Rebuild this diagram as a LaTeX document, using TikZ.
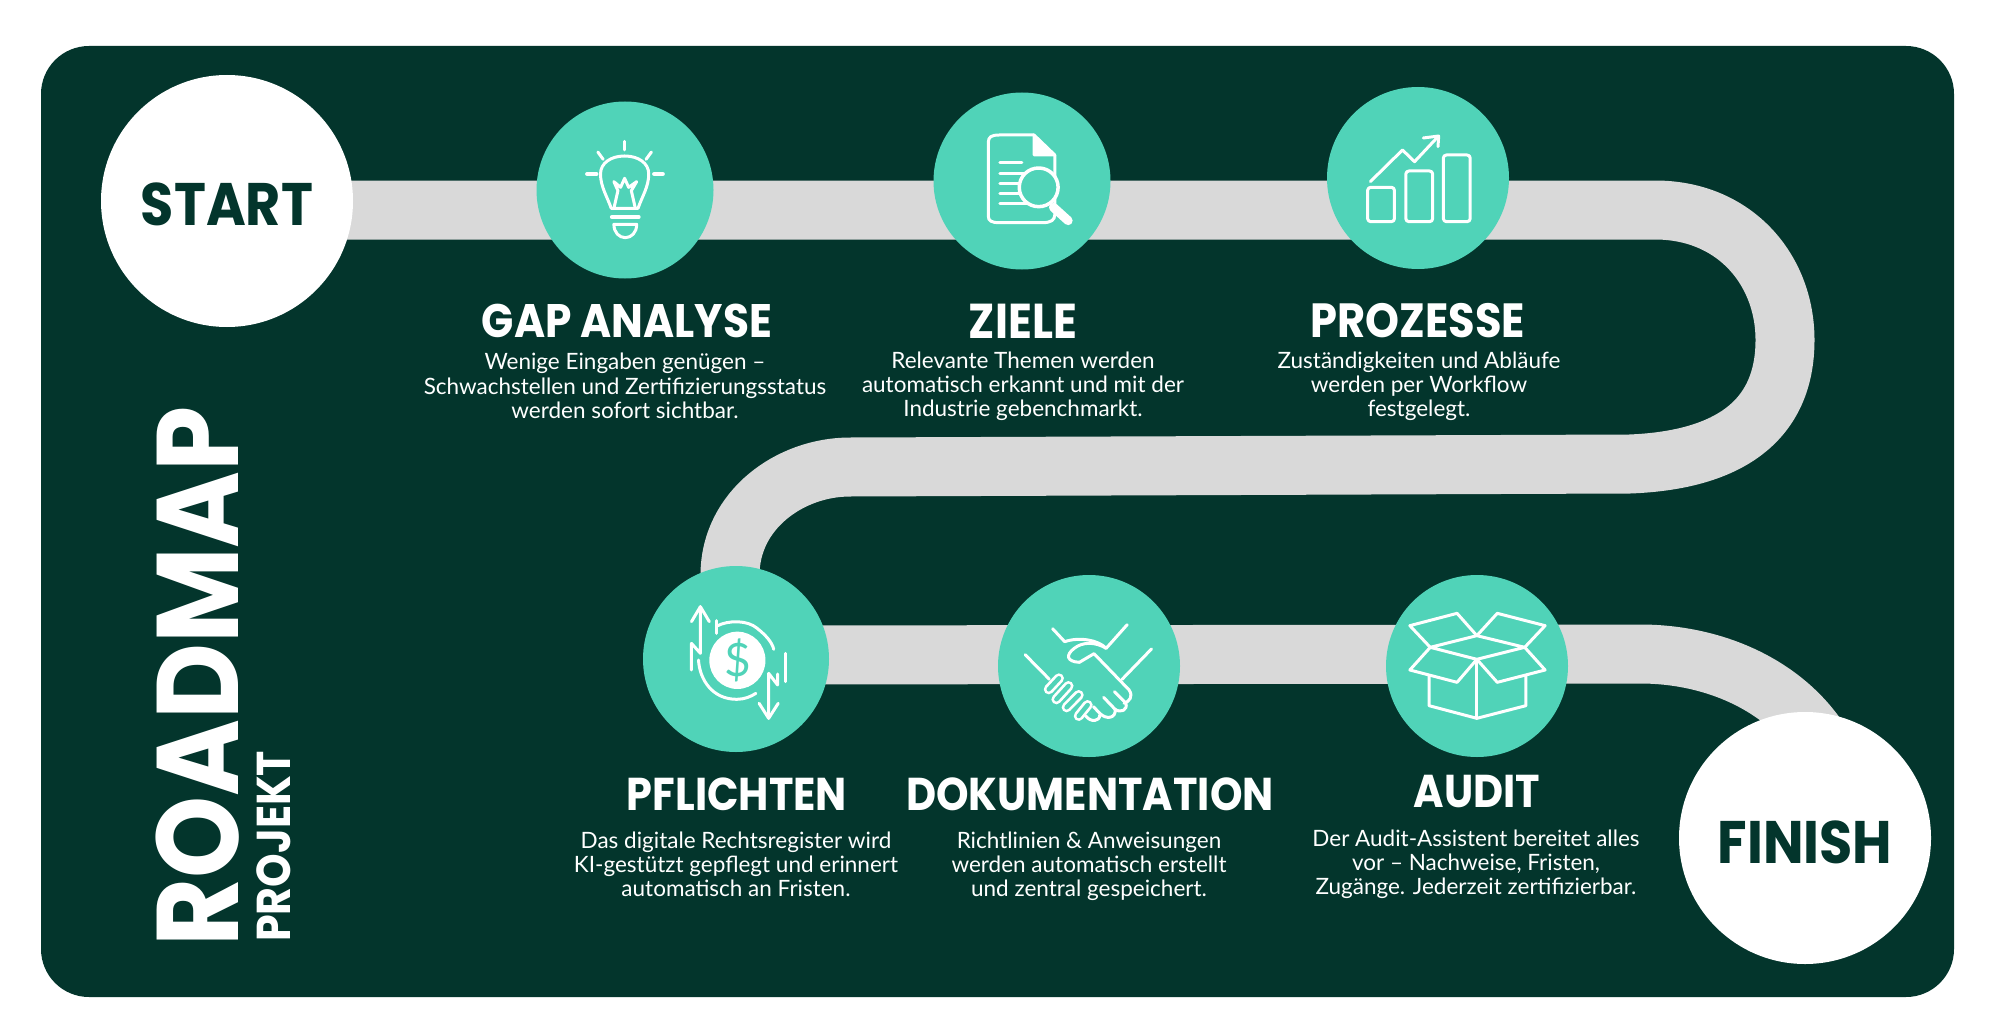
\documentclass[tikz,border=0pt]{standalone}
\usepackage{fontspec}
\setmainfont{Lato}
\newfontfamily\headf[FakeStretch=0.9]{Poppins}
\definecolor{panel}{HTML}{03352C}
\definecolor{teal}{HTML}{50D3B8}
\definecolor{bandc}{HTML}{D9D9D9}
\tikzset{
 stepdot/.style={circle,fill=teal,draw=none,inner sep=0pt},
 endcirc/.style={circle,fill=white,draw=none,minimum size=252pt,inner sep=0pt},
 endtxt/.style={inner sep=0pt,text=panel,font=\headf\bfseries\fontsize{60}{62}\selectfont},
 headtxt/.style={text=white,inner sep=0pt,font=\headf\bfseries\fontsize{#1}{48}\selectfont},
 headtxt/.default=46,
 bodytxt/.style={text=white,inner sep=0pt,align=center,font=\fontsize{22.5}{24.2}\selectfont},
 band/.style={draw=bandc,line width=59pt,line join=round},
 ico/.style={draw=white,line width=3pt,line cap=round,line join=round},
 icz1/.style={shift={(500,100)},x=.67pt,y=-.3333pt},
 icz2/.style={shift={(620,550)},x=.638pt,y=-.3333pt},
}
\begin{document}
\begin{tikzpicture}[x=1pt,y=-1pt]
\useasboundingbox (0,0) rectangle (2000,1030);
\fill[white] (0,0) rectangle (2000,1030);
\fill[panel,rounded corners=48pt] (41,46) rectangle (1954,997);
\coordinate (cS) at (227,201);
\coordinate (cG) at (625,190);
\coordinate (cZ) at (1022,181);
\coordinate (cP) at (1418,178);
\coordinate (cF) at (736,659);
\coordinate (cD) at (1089,666);
\coordinate (cA) at (1477,666);
\coordinate (cE) at (1805,838);
\coordinate (b1) at (227,210);
\coordinate (b2) at (1655,210);
\coordinate (b3) at (1785,340);
\coordinate (b4) at (1630,464);
\coordinate (b5) at (850,467);
\coordinate (b6) at (730,575);
\coordinate (b7) at (736,655);
\coordinate (b8) at (1640,654);
\coordinate (b9) at (1835,770);
\draw[band] (b1) -- (b2) .. controls (1735,210) and (1785,270) .. (b3) .. controls (1785,420) and (1730,460) .. (b4) -- (b5) .. controls (790,467) and (730,510) .. (b6) -- (b7) -- (b8) .. controls (1725,654) and (1805,695) .. (b9);
\node[endcirc] (start) at (cS) {};
\node[endcirc] (finish) at (cE) {};
\node[endtxt] (starttxt) at (227,204) {START};
\node[endtxt] (finishtxt) at (1805,842) {FINISH};
\node[stepdot,minimum size=177pt] (gap) at (cG) {};
\node[stepdot,minimum size=177pt] (ziele) at (cZ) {};
\node[stepdot,minimum size=182pt] (proz) at (cP) {};
\node[stepdot,minimum size=186pt] (pfl) at (cF) {};
\node[stepdot,minimum size=182pt] (doku) at (cD) {};
\node[stepdot,minimum size=182pt] (audit) at (cA) {};
% headings
\node[headtxt=47] (h1) at (627,321) {GAP ANALYSE};
\node[headtxt=49] (h2) at (1023,321) {ZIELE};
\node[headtxt=48] (h3) at (1418,321) {PROZESSE};
\node[headtxt] (h4) at (737,794) {PFLICHTEN};
\node[headtxt] (h5) at (1090,794) {DOKUMENTATION};
\node[headtxt] (h6) at (1477,792) {AUDIT};
% body
\node[bodytxt] (t1) at (625,386) {Wenige Eingaben genügen –\\Schwachstellen und Zertifizierungsstatus\\werden sofort sichtbar.};
\node[bodytxt] (t2) at (1023,386) {Relevante Themen werden\\automatisch erkannt und mit der\\Industrie gebenchmarkt.};
\node[bodytxt] (t3) at (1419,386) {Zuständigkeiten und Abläufe\\werden per Workflow\\festgelegt.};
\node[bodytxt] (t4) at (736,864) {Das digitale Rechtsregister wird\\KI-gestützt gepflegt und erinnert\\automatisch an Fristen.};
\node[bodytxt] (t5) at (1089,866) {Richtlinien \& Anweisungen\\werden automatisch erstellt\\und zentral gespeichert.};
\node[bodytxt] (t6) at (1476,864) {Der Audit-Assistent bereitet alles\\vor – Nachweise, Fristen,\\Zugänge. Jederzeit zertifizierbar.};
% side title
\node[rotate=90,anchor=base west,inner sep=0pt,text=white,font=\headf\bfseries\fontsize{116}{116}\selectfont] (road) at (238,947) {ROADMAP};
\node[rotate=90,anchor=base west,inner sep=0pt,text=white,font=\headf\bfseries\fontsize{47.5}{47.5}\selectfont] (proj) at (290,942) {PROJEKT};
% bulb
\begin{scope}[icz1,ico]
\draw (166,325) .. controls (160,290) and (150,260) .. (150,222) .. controls (150,190) and (165,168) .. (186,168) .. controls (207,168) and (222,190) .. (222,222) .. controls (222,260) and (212,290) .. (206,325) -- cycle;
\draw (170,325) -- (176,272) -- (170,245) -- (180,262) -- (186,235) -- (192,262) -- (204,245) -- (196,272) -- (202,325);
\draw[line width=4pt] (167,351) -- (207,351);
\draw (170,373) -- (204,373) .. controls (204,398) and (196,413) .. (187,413) .. controls (178,413) and (170,398) .. (170,373) -- cycle;
\draw (186,124) -- (186,150);
\draw (146,156) -- (154,178);
\draw (226,156) -- (218,178);
\draw[line width=4pt] (130,222) -- (144,222);
\draw[line width=4pt] (230,222) -- (243,222);
\end{scope}
% document
\begin{scope}[icz1,ico]
\draw (797,105) -- (745,105) .. controls (733,105) and (729,112) .. (729,125) -- (729,350) .. controls (729,362) and (733,368) .. (745,368) -- (810,368) .. controls (822,368) and (828,360) .. (828,345) -- (828,165);
\draw[fill=white] (797,105) -- (828,165) -- (797,165) -- cycle;
\draw (746,188) -- (779,188);
\draw (746,220) -- (790,220);
\draw (746,250) -- (775,250);
\draw (746,282) -- (775,282);
\draw (746,312) -- (790,312);
\draw[line width=3.5pt,fill=teal] (804,262) circle[x radius=29,y radius=58];
\draw[line width=9pt] (826,322) -- (848,362);
\end{scope}
% chart
\begin{scope}[icz1,ico]
\draw[rounded corners=3pt] (1295,262) rectangle (1335,365);
\draw[rounded corners=3pt] (1352,213) rectangle (1392,365);
\draw[rounded corners=3pt] (1408,165) rectangle (1448,365);
\draw (1299,245) -- (1347,150) -- (1365,185) -- (1400,110);
\draw (1378,114) -- (1401,108) -- (1400,140);
\end{scope}
% finance
\begin{scope}[icz2,ico]
\fill[white] (184,331) circle[x radius=44,y radius=86];
\draw (112,215) -- (126,170) -- (140,215);
\draw (126,170) -- (126,310) -- (112,280) -- (112,360);
\draw (218,460) -- (233,505) -- (248,460);
\draw (233,505) -- (233,370) -- (247,405) -- (247,372);
\draw (260,310) -- (260,395);
\draw (152,212) -- (152,250);
\draw (152,228) .. controls (170,210) and (200,210) .. (215,235) .. controls (228,255) and (238,275) .. (241,298);
\draw (123,330) .. controls (125,390) and (145,448) .. (183,448) .. controls (195,448) and (205,440) .. (213,430);
\end{scope}
\node[text=teal,inner sep=0pt,font=\fontsize{46}{46}\selectfont] (dollar) at (737.5,660) {\$};
% handshake
\begin{scope}[icz2,ico]
\draw (678,236) -- (697,275) .. controls (720,260) and (750,270) .. (762,295) -- (795,224);
\draw (635,314) -- (673,388);
\draw (833,297) -- (787,388);
\draw (762,295) .. controls (745,275) and (725,275) .. (712,295) .. controls (698,315) and (700,335) .. (720,337) -- (743,311) -- (798,420) .. controls (805,440) and (798,455) .. (790,460);
\draw[line width=10pt] (688,385) -- (672,418);
\draw[line width=10pt] (703,408) -- (684,448);
\draw[line width=10pt] (719,435) -- (700,472);
\draw[line width=10pt] (733,465) -- (719,498);
\draw[teal,line width=4.5pt] (688,385) -- (672,418);
\draw[teal,line width=4.5pt] (703,408) -- (684,448);
\draw[teal,line width=4.5pt] (719,435) -- (700,472);
\draw[teal,line width=4.5pt] (733,465) -- (719,498);
\draw (775,425) -- (793,460) .. controls (796,480) and (785,490) .. (776,478) -- (758,442);
\draw (776,478) .. controls (778,505) and (762,510) .. (752,490) -- (742,470);
\draw (752,495) .. controls (752,515) and (738,518) .. (730,498);
\end{scope}
% box
\begin{scope}[icz2,ico]
\draw (1343,257) -- (1270,292) -- (1343,328) -- (1418,292) -- cycle;
\draw (1343,257) -- (1312,190) -- (1238,227) -- (1270,292);
\draw (1343,257) -- (1375,190) -- (1450,227) -- (1418,292);
\draw (1270,292) -- (1238,360) -- (1312,397) -- (1343,328);
\draw (1418,292) -- (1450,360) -- (1375,397) -- (1343,328);
\draw (1268,378) -- (1268,467) -- (1343,505) -- (1420,467) -- (1420,378);
\draw (1343,328) -- (1343,505);
\end{scope}
\end{tikzpicture}
\end{document}
